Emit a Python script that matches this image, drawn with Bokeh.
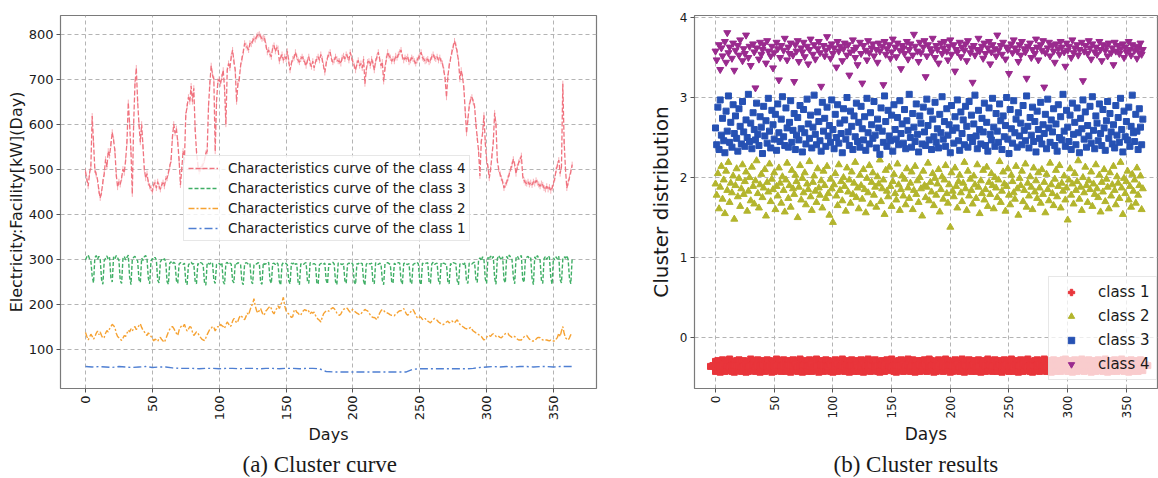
import math
import numpy as np
from bokeh.plotting import figure
from bokeh.layouts import row
from bokeh.models import Range1d, FixedTicker, Legend, LegendItem, Title
from bokeh.embed import file_html
from bokeh.resources import INLINE

nan = float("nan")

# ---------------- data ----------------
days = list(range(365))
x_ticks = [0, 50, 100, 150, 200, 250, 300, 350]
left_y_ticks = [100, 200, 300, 400, 500, 600, 700, 800]
right_y_ticks = [0, 1, 2, 3, 4]

curve_labels = ["Characteristics curve of the class 4", "Characteristics curve of the class 3",
                "Characteristics curve of the class 2", "Characteristics curve of the class 1"]
class_labels = ["class 1", "class 2", "class 3", "class 4"]

class4_curve = [
    495, 478, 462, 490, 505, 618, 560, 498, 488, 476,
    452, 436, 448, 472, 490, 522, 505, 540, 530, 555,
    582, 565, 540, 488, 460, 472, 466, 480, 500, 492,
    520, 560, 648, 600, 540, 445, 600, 690, 725, 650,
    600, 560, 600, 550, 500, 480, 490, 470, 462, 458,
    450, 465, 470, 458, 472, 462, 455, 465, 470, 462,
    478, 480, 492, 505, 520, 570, 600, 580, 590, 560,
    520, 465, 500, 540, 520, 620, 640, 660, 650, 685,
    650, 680, 590, 540, 510, 495, 500, 505, 512, 520,
    535, 540, 640, 690, 730, 710, 700, 540, 650, 695,
    700, 690, 705, 720, 680, 600, 720, 735, 725, 750,
    765, 740, 720, 650, 690, 700, 730, 745, 760, 780,
    775, 770, 765, 780, 778, 785, 790, 788, 795, 798,
    800, 795, 790, 792, 790, 775, 760, 765, 755, 750,
    770, 775, 762, 770, 768, 740, 748, 755, 742, 750,
    745, 762, 740, 720, 735, 745, 748, 760, 750, 742,
    738, 745, 750, 745, 738, 730, 742, 750, 735, 728,
    740, 725, 738, 745, 750, 742, 755, 745, 730, 715,
    735, 748, 755, 760, 745, 738, 742, 750, 745, 740,
    740, 735, 748, 752, 745, 755, 750, 742, 760, 748,
    738, 730, 720, 735, 742, 730, 735, 725, 745, 690,
    720, 738, 740, 730, 745, 735, 720, 740, 750, 760,
    745, 730, 738, 695, 725, 745, 760, 752, 748, 740,
    745, 740, 752, 748, 755, 760, 765, 750, 742, 748,
    745, 750, 738, 742, 748, 745, 740, 735, 742, 748,
    752, 760, 748, 745, 740, 742, 745, 738, 742, 750,
    755, 748, 745, 750, 742, 748, 740, 735, 720, 700,
    660, 705, 730, 745, 760, 772, 785, 775, 760, 740,
    700, 720, 705, 680, 630, 580, 610, 640, 655, 660,
    650, 640, 600, 570, 540, 485, 560, 580, 620, 560,
    520, 505, 480, 500, 530, 560, 625, 600, 520, 500,
    490, 480, 472, 458, 465, 470, 480, 490, 500, 510,
    522, 510, 490, 505, 515, 520, 530, 485, 475, 470,
    468, 472, 466, 470, 465, 472, 468, 475, 470, 466,
    462, 468, 465, 458, 455, 462, 455, 460, 452, 458,
    468, 480, 498, 510, 520, 490, 505, 690, 560, 500,
    458, 470, 482, 495, 510]

class3_curve = [
    298, 305, 309, 301, 296, 262, 247,
    303, 308, 300, 306, 299, 255, 244,
    296, 302, 307, 299, 304, 258, 249,
    305, 300, 308, 303, 297, 252, 246,
    301, 306, 298, 304, 309, 260, 243,
    299, 304, 306, 300, 296, 254, 248,
    302, 297, 305, 308, 301, 257, 245,
    296, 301, 299, 304, 298, 253, 247,
    294, 299, 296, 301, 295, 250, 244,
    291, 294, 289, 293, 290, 252, 246,
    289, 292, 290, 288, 291, 249, 243,
    287, 291, 293, 289, 290, 251, 245,
    290, 288, 292, 291, 287, 248, 242,
    292, 290, 289, 293, 291, 253, 246,
    288, 291, 290, 287, 292, 250, 244,
    290, 293, 288, 291, 289, 252, 247,
    291, 289, 292, 290, 288, 249, 243,
    289, 292, 291, 288, 290, 251, 245,
    287, 290, 289, 292, 291, 248, 244,
    292, 288, 290, 289, 293, 253, 246,
    290, 291, 288, 292, 289, 250, 242,
    288, 292, 291, 290, 287, 252, 245,
    291, 289, 293, 288, 290, 249, 243,
    289, 290, 288, 291, 292, 251, 246,
    292, 291, 289, 290, 288, 248, 244,
    288, 290, 292, 289, 291, 253, 245,
    290, 288, 291, 293, 289, 250, 243,
    291, 292, 289, 288, 290, 252, 246,
    289, 291, 290, 292, 288, 249, 244,
    290, 289, 293, 291, 290, 251, 242,
    288, 292, 290, 289, 291, 248, 245,
    292, 290, 288, 291, 289, 253, 243,
    289, 291, 292, 290, 288, 250, 246,
    291, 288, 290, 292, 291, 252, 244,
    290, 292, 289, 288, 290, 249, 245,
    288, 290, 291, 293, 289, 251, 243,
    291, 289, 290, 291, 292, 248, 246,
    289, 293, 288, 290, 291, 253, 244,
    292, 290, 291, 289, 288, 250, 245,
    290, 288, 292, 291, 290, 252, 243,
    289, 291, 290, 288, 292, 249, 246,
    291, 290, 289, 292, 293, 255, 248,
    298, 303, 296, 305, 300, 256, 246,
    304, 299, 307, 301, 306, 258, 244,
    300, 308, 303, 298, 305, 254, 247,
    306, 301, 309, 304, 299, 260, 245,
    302, 307, 300, 305, 308, 255, 248,
    299, 304, 306, 301, 303, 257, 243,
    305, 300, 308, 302, 298, 253, 246,
    301, 306, 299, 307, 304, 259, 244,
    303, 298, 305, 300, 306, 254, 247,
    300, 305, 302, 308, 299, 256, 245,
    302]

class2_curve = [
    137, 128, 120, 126, 133, 128, 122, 127, 135, 140,
    132, 138, 130, 124, 126, 135, 141, 138, 145, 150,
    155, 152, 148, 135, 128, 125, 122, 119, 124, 130,
    128, 135, 142, 138, 145, 140, 146, 150, 143, 148,
    152, 156, 148, 142, 138, 134, 130, 136, 132, 128,
    124, 118, 122, 120, 117, 123, 126, 121, 118, 115,
    122, 130, 138, 144, 148, 150, 146, 140, 135, 130,
    142, 148, 152, 150, 155, 146, 140, 144, 150, 148,
    138, 130, 134, 138, 136, 130, 126, 122, 120, 119,
    125, 132, 138, 144, 146, 150, 148, 140, 146, 150,
    148, 155, 152, 150, 146, 154, 160, 156, 150, 152,
    162, 168, 164, 158, 162, 170, 175, 172, 168, 165,
    172, 180, 176, 186, 195, 200, 212, 195, 185, 180,
    186, 190, 182, 175, 178, 185, 188, 192, 195, 190,
    182, 178, 186, 190, 196, 190, 198, 205, 215, 196,
    185, 180, 178, 175, 170, 172, 185, 188, 182, 180,
    176, 175, 182, 185, 188, 185, 188, 184, 178, 182,
    180, 182, 175, 170, 166, 164, 160, 170, 178, 182,
    185, 186, 184, 188, 190, 192, 190, 186, 180, 176,
    175, 178, 184, 188, 190, 192, 190, 185, 182, 186,
    188, 185, 182, 180, 178, 176, 178, 182, 185, 188,
    186, 185, 180, 176, 172, 170, 170, 168, 165, 172,
    180, 185, 188, 186, 182, 180, 180, 178, 176, 175,
    175, 174, 178, 180, 183, 185, 185, 188, 190, 184,
    178, 175, 178, 182, 185, 188, 182, 176, 170, 168,
    172, 170, 166, 165, 168, 164, 162, 160, 158, 162,
    165, 168, 166, 164, 160, 158, 156, 154, 155, 158,
    160, 162, 158, 160, 163, 160, 158, 162, 165, 160,
    155, 152, 150, 148, 146, 145, 144, 146, 148, 144,
    140, 138, 136, 135, 132, 130, 128, 124, 120, 122,
    126, 130, 130, 128, 132, 134, 132, 128, 126, 128,
    126, 125, 128, 132, 134, 135, 135, 130, 128, 126,
    128, 128, 125, 122, 120, 120, 120, 124, 127, 130,
    130, 126, 122, 120, 118, 118, 118, 122, 125, 126,
    125, 122, 120, 121, 120, 120, 119, 118, 120, 118,
    118, 118, 122, 126, 135, 128, 140, 150, 135, 125,
    122, 120, 125, 132, 130]

class1_days = list(range(0, 365, 5)) + [364]
class1_curve = [
    61, 60, 61, 60, 59, 61, 60, 59, 60, 61,
    59, 60, 60, 58, 57, 57, 57, 56, 57, 57,
    56, 57, 57, 56, 57, 57, 56, 57, 57, 56,
    57, 57, 56, 57, 57, 56, 50, 49, 49, 49,
    49, 49, 49, 49, 49, 49, 49, 49, 49, 55,
    56, 56, 56, 56, 56, 56, 56, 56, 57, 59,
    60, 61, 60, 61, 60, 61, 61, 60, 61, 61,
    60, 61, 61, 61]

# scatter: cluster distribution per day
class1_scatter_days = list(range(0, 365, 2))
class1_y = [
    -0.36, -0.35, -0.37, -0.34, -0.36, -0.35, -0.33, -0.36, -0.37, -0.35,
    -0.34, -0.36, -0.35, -0.37, -0.36, -0.33, -0.35, -0.36, -0.34, -0.37,
    -0.35, -0.36, -0.34, -0.35, -0.37, -0.36, -0.33, -0.35, -0.36, -0.34,
    -0.36, -0.35, -0.37, -0.34, -0.35, -0.36, -0.33, -0.37, -0.35, -0.36,
    -0.34, -0.36, -0.35, -0.33, -0.37, -0.35, -0.36, -0.34, -0.35, -0.36,
    -0.37, -0.34, -0.36, -0.35, -0.33, -0.36, -0.35, -0.37, -0.34, -0.36,
    -0.35, -0.36, -0.34, -0.37, -0.35, -0.33, -0.36, -0.35, -0.34, -0.36,
    -0.37, -0.35, -0.36, -0.34, -0.35, -0.33, -0.36, -0.37, -0.35, -0.34,
    -0.36, -0.35, -0.33, -0.36, -0.34, -0.37, -0.35, -0.36, -0.35, -0.34,
    -0.36, -0.33, -0.35, -0.37, -0.36, -0.34, -0.35, -0.36, -0.33, -0.35,
    -0.37, -0.36, -0.34, -0.35, -0.36, -0.33, -0.37, -0.35, -0.34, -0.36,
    -0.35, -0.36, -0.34, -0.37, -0.35, -0.36, -0.33, -0.35, -0.36, -0.34,
    -0.36, -0.35, -0.37, -0.34, -0.35, -0.36, -0.33, -0.36, -0.35, -0.37,
    -0.34, -0.36, -0.35, -0.33, -0.36, -0.37, -0.35, -0.34, -0.36, -0.35,
    -0.33, -0.36, -0.35, -0.37, -0.34, -0.36, -0.35, -0.36, -0.34, -0.33,
    -0.36, -0.35, -0.37, -0.34, -0.36, -0.35, -0.33, -0.36, -0.35, -0.34,
    -0.37, -0.35, -0.36, -0.34, -0.35, -0.36, -0.33, -0.37, -0.35, -0.36,
    -0.34, -0.36, -0.35, -0.33, -0.36, -0.35, -0.37, -0.34, -0.36, -0.35,
    -0.36, -0.34, -0.35]

class2_y = [
    1.92, 1.78, 2.05, 1.61, 1.88, 2.14, 1.73, 1.97, 1.55, 2.08,
    1.84, 2.19, 1.69, 1.93, 1.81, 2.02, 1.48, 1.90, 2.11, 1.76,
    1.99, 1.64, 1.86, 2.16, 1.79, 1.95, 2.07, 1.58, 1.83, 2.00,
    1.71, 2.13, 1.89, 1.67, 1.96, 2.21, 1.80, 1.62, 1.91, 2.04,
    1.75, 1.87, 2.10, 1.52, 1.94, 1.82, 2.17, 1.70, 1.98, 1.85,
    2.06, 1.60, 1.89, 1.77, 2.12, 1.93, 1.68, 2.01, 1.84, 1.57,
    1.97, 2.18, 1.74, 1.90, 1.63, 2.09, 1.86, 1.79, 2.03, 1.95,
    1.50, 1.88, 2.15, 1.72, 1.99, 1.81, 2.06, 1.66, 1.92, 1.85,
    2.20, 1.76, 1.59, 1.94, 2.02, 1.83, 1.69, 2.11, 1.87, 1.78,
    1.96, 1.62, 2.08, 1.90, 1.74, 2.14, 1.80, 1.53, 1.98, 1.86,
    1.44, 1.91, 2.05, 1.77, 1.65, 2.16, 1.84, 1.95, 1.71, 2.00,
    1.89, 1.58, 2.12, 1.82, 1.97, 1.68, 2.07, 1.79, 1.93, 2.19,
    1.75, 1.87, 1.61, 2.03, 1.90, 1.73, 2.10, 1.85, 1.56, 1.99,
    1.81, 2.15, 1.67, 1.94, 2.06, 1.78, 1.88, 1.63, 2.01, 1.92,
    2.22, 1.70, 1.86, 1.97, 1.54, 2.09, 1.83, 1.76, 2.13, 1.89,
    1.64, 1.95, 2.04, 1.80, 1.72, 2.17, 1.91, 1.59, 1.85, 2.02,
    1.77, 1.98, 1.66, 2.11, 1.87, 1.74, 1.93, 2.07, 1.60, 1.84,
    2.14, 1.79, 1.96, 1.69, 2.00, 1.86, 1.52, 2.08, 1.90, 1.75,
    1.88, 2.18, 1.71, 1.94, 1.82, 2.05, 1.65, 1.99, 1.78, 1.92,
    2.10, 1.57, 1.85, 2.01, 1.73, 1.97, 2.15, 1.80, 1.68, 1.91,
    1.38, 2.06, 1.83, 1.76, 2.12, 1.89, 1.62, 1.95, 2.03, 1.81,
    1.70, 1.93, 2.19, 1.86, 1.59, 2.08, 1.77, 1.98, 1.84, 1.67,
    2.02, 1.91, 1.74, 2.16, 1.88, 1.55, 1.96, 1.80, 2.09, 1.72,
    1.85, 2.13, 1.64, 1.94, 1.79, 2.05, 1.90, 1.61, 2.00, 1.87,
    1.75, 1.97, 2.20, 1.69, 1.83, 2.07, 1.92, 1.58, 1.89, 2.11,
    1.78, 1.66, 2.03, 1.95, 1.81, 1.73, 2.14, 1.86, 1.53, 1.99,
    1.90, 2.08, 1.70, 1.84, 2.17, 1.63, 1.93, 1.77, 2.01, 1.88,
    1.60, 2.12, 1.82, 1.96, 1.74, 2.06, 1.87, 1.68, 2.10, 1.79,
    1.94, 1.56, 2.04, 1.85, 1.71, 2.18, 1.91, 1.80, 1.65, 1.98,
    2.09, 1.76, 1.89, 2.15, 1.62, 1.93, 1.83, 2.02, 1.72, 1.87,
    1.47, 1.97, 2.11, 1.78, 1.92, 1.67, 2.05, 1.84, 1.95, 2.21,
    1.73, 1.88, 1.59, 2.00, 1.81, 2.13, 1.90, 1.69, 1.96, 1.85,
    2.07, 1.64, 1.92, 1.79, 2.16, 1.86, 1.75, 2.03, 1.57, 1.94,
    1.82, 2.10, 1.70, 1.98, 1.88, 1.61, 2.06, 1.77, 1.91, 2.14,
    1.84, 1.66, 2.01, 1.93, 1.74, 2.19, 1.87, 1.54, 1.99, 1.80,
    1.95, 2.08, 1.72, 1.89, 1.63, 2.04, 1.83, 1.97, 1.68, 2.12,
    1.78, 1.90, 2.02, 1.60, 1.86]

class3_y = [
    2.62, 2.41, 2.88, 2.35, 2.97, 2.53, 2.74, 2.46, 2.31, 2.83,
    2.58, 3.02, 2.44, 2.69, 2.38, 2.91, 2.55, 2.77, 2.49, 2.33,
    2.86, 2.64, 2.42, 2.95, 2.57, 2.39, 2.72, 2.50, 3.04, 2.45,
    2.68, 2.36, 2.81, 2.60, 2.47, 2.93, 2.54, 2.40, 2.76, 2.63,
    2.30, 2.89, 2.52, 2.71, 2.43, 2.99, 2.58, 2.37, 2.84, 2.66,
    2.48, 2.79, 2.34, 2.92, 2.56, 2.45, 2.73, 3.01, 2.51, 2.40,
    2.87, 2.62, 2.38, 2.69, 2.96, 2.44, 2.59, 2.80, 2.35, 2.53,
    2.75, 2.47, 2.90, 2.61, 2.32, 2.85, 2.56, 2.42, 2.98, 2.67,
    2.49, 2.78, 2.37, 2.63, 3.03, 2.54, 2.41, 2.82, 2.70, 2.46,
    2.33, 2.94, 2.58, 2.74, 2.39, 2.88, 2.52, 2.65, 2.44, 2.97,
    2.60, 2.36, 2.79, 2.50, 2.91, 2.43, 2.68, 2.55, 2.31, 2.86,
    2.72, 2.48, 3.00, 2.57, 2.40, 2.83, 2.64, 2.35, 2.77, 2.51,
    2.93, 2.45, 2.69, 2.38, 2.89, 2.61, 2.47, 2.76, 2.34, 2.99,
    2.56, 2.42, 2.81, 2.66, 2.49, 2.95, 2.53, 2.37, 2.73, 2.62,
    2.29, 2.87, 2.58, 2.44, 3.02, 2.70, 2.39, 2.84, 2.52, 2.46,
    2.78, 2.33, 2.91, 2.60, 2.48, 2.75, 2.41, 2.96, 2.55, 2.67,
    2.43, 2.85, 2.36, 2.71, 2.59, 3.04, 2.50, 2.38, 2.80, 2.63,
    2.45, 2.92, 2.54, 2.32, 2.77, 2.68, 2.42, 2.88, 2.57, 2.40,
    2.98, 2.65, 2.47, 2.83, 2.35, 2.73, 2.51, 2.94, 2.44, 2.61,
    2.37, 2.79, 2.56, 3.01, 2.48, 2.70, 2.39, 2.86, 2.53, 2.66,
    2.31, 2.90, 2.59, 2.43, 2.76, 2.62, 2.97, 2.46, 2.34, 2.82,
    2.55, 2.72, 2.41, 2.89, 2.64, 2.38, 2.95, 2.50, 2.78, 2.45,
    2.67, 3.03, 2.52, 2.36, 2.84, 2.60, 2.42, 2.74, 2.57, 2.93,
    2.40, 2.69, 2.33, 2.87, 2.54, 2.47, 2.99, 2.63, 2.39, 2.80,
    2.58, 2.44, 2.92, 2.71, 2.35, 2.77, 2.51, 2.65, 3.00, 2.48,
    2.30, 2.85, 2.61, 2.43, 2.96, 2.56, 2.73, 2.38, 2.81, 2.52,
    2.68, 2.41, 2.90, 2.59, 2.46, 3.02, 2.64, 2.37, 2.75, 2.53,
    2.88, 2.45, 2.70, 2.32, 2.83, 2.60, 2.49, 2.94, 2.42, 2.66,
    2.55, 2.79, 2.36, 2.98, 2.62, 2.44, 2.72, 2.57, 2.86, 2.40,
    2.67, 2.33, 2.91, 2.50, 2.76, 2.47, 3.04, 2.58, 2.39, 2.84,
    2.63, 2.45, 2.78, 2.35, 2.93, 2.54, 2.69, 2.41, 2.87, 2.56,
    2.31, 2.74, 2.61, 2.97, 2.48, 2.82, 2.38, 2.65, 2.52, 2.89,
    2.43, 3.01, 2.59, 2.36, 2.77, 2.68, 2.46, 2.92, 2.55, 2.40,
    2.85, 2.62, 2.34, 2.71, 2.95, 2.49, 2.80, 2.57, 2.42, 2.66,
    2.37, 2.90, 2.53, 2.75, 2.44, 2.99, 2.60, 2.32, 2.83, 2.51,
    2.70, 2.47, 2.88, 2.39, 2.64, 3.03, 2.56, 2.45, 2.79, 2.58,
    2.35, 2.86, 2.63, 2.41, 2.73]

class4_y = [
    3.58, 3.47, nan, 3.66, 3.35, 3.62, 3.52, nan, 3.70, 3.44,
    3.81, 3.56, 3.63, nan, 3.49, 3.68, 3.34, 3.59, nan, 3.65,
    3.53, 3.72, nan, 3.46, 3.61, 3.55, 3.78, nan, 3.50, 3.64,
    3.40, nan, 3.67, 3.57, 3.12, 3.62, nan, 3.48, 3.69, 3.54,
    3.60, 3.66, nan, 3.43, 3.71, 3.58, nan, 3.52, 3.64, 3.37,
    3.56, nan, 3.69, 3.61, 3.22, 3.50, 3.65, nan, 3.59, 3.74,
    nan, 3.47, 3.63, 3.55, 3.68, nan, 3.53, 3.20, 3.66, 3.58,
    3.71, 3.45, nan, 3.62, 3.57, 3.69, 3.51, nan, 3.64, 3.42,
    3.60, 3.73, nan, 3.54, 3.66, 3.48, nan, 3.61, 3.70, 3.56,
    3.14, nan, 3.65, 3.52, 3.59, 3.76, nan, 3.63, 3.49, 3.67,
    3.55, 3.62, nan, 3.38, 3.70, 3.58, 3.64, nan, 3.46, 3.61,
    3.68, nan, 3.53, 3.66, 3.28, 3.57, nan, 3.72, 3.60, 3.50,
    3.63, 3.41, nan, 3.69, 3.55, 3.18, 3.65, nan, 3.59, 3.47,
    3.71, 3.56, nan, 3.62, 3.67, 3.52, nan, 3.60, 3.44, 3.68,
    3.58, nan, 3.64, 3.16, 3.70, 3.54, 3.61, nan, 3.66, 3.49,
    3.57, 3.73, nan, 3.63, 3.51, 3.68, nan, 3.59, 3.36, 3.65,
    3.62, 3.55, nan, 3.70, 3.48, 3.60, 3.67, nan, 3.53, 3.79,
    3.64, nan, 3.58, 3.45, 3.69, 3.56, nan, 3.63, 3.71, 3.26,
    3.52, 3.66, nan, 3.61, 3.57, 3.74, nan, 3.50, 3.65, 3.60,
    3.43, nan, 3.68, 3.55, 3.62, 3.70, nan, 3.58, 3.47, 3.64,
    3.72, 3.54, nan, 3.66, 3.33, 3.60, 3.57, nan, 3.69, 3.51,
    3.63, nan, 3.59, 3.67, 3.46, 3.71, nan, 3.56, 3.62, 3.19,
    3.65, 3.53, nan, 3.60, 3.74, 3.58, nan, 3.64, 3.49, 3.68,
    3.55, nan, 3.62, 3.70, 3.42, 3.57, 3.66, nan, 3.61, 3.52,
    3.78, 3.59, nan, 3.65, 3.54, 3.69, nan, 3.48, 3.63, 3.60,
    3.30, nan, 3.67, 3.56, 3.72, 3.62, nan, 3.58, 3.45, 3.66,
    3.53, 3.70, nan, 3.61, 3.57, 3.24, 3.64, nan, 3.68, 3.50,
    3.60, nan, 3.55, 3.73, 3.63, 3.47, nan, 3.66, 3.59, 3.71,
    3.13, 3.56, nan, 3.62, 3.69, 3.52, nan, 3.65, 3.58, 3.44,
    3.67, nan, 3.61, 3.54, 3.70, 3.63, nan, 3.57, 3.39, 3.68,
    3.59, 3.64, nan, 3.50, 3.72, 3.56, 3.62, nan, 3.66, 3.53,
    3.60, nan, 3.69, 3.21, 3.58, 3.65, nan, 3.55, 3.71, 3.62,
    3.48, 3.67, nan, 3.57, 3.63, 3.54, nan, 3.70, 3.60, 3.46,
    3.66, nan, 3.59, 3.64, 3.52, 3.68, nan, 3.56, 3.62, 3.41,
    3.69, 3.58, nan, 3.65, 3.55, 3.61, nan, 3.67, 3.50, 3.63,
    3.57, nan, 3.70, 3.60, 3.53, 3.66, nan, 3.59, 3.64, 3.49,
    3.62, 3.56, 3.68, 3.54, 3.60]

assert len(class4_curve) == 365 and len(class3_curve) == 365 and len(class2_curve) == 365
assert len(class1_curve) == len(class1_days)
assert len(class1_y) == len(class1_scatter_days)
assert len(class2_y) == 365 and len(class3_y) == 365 and len(class4_y) == 365

# ---------------- styling helpers ----------------
FONT = "DejaVu Sans"
TXT = "#1a1a1a"


def style_axes(p, tick_size, xlabel_size, ylabel_size, ylabel, y_ticks):
    p.outline_line_color = "#7a7a7a"
    p.outline_line_width = 1.2
    p.background_fill_color = "white"
    p.border_fill_color = "white"
    for ax in (p.xaxis[0], p.yaxis[0]):
        ax.axis_line_color = None
        ax.major_tick_line_color = "#555555"
        ax.major_tick_out = 4
        ax.major_tick_in = 0
        ax.minor_tick_line_color = None
        ax.major_label_text_font = FONT
        ax.major_label_text_font_size = tick_size
        ax.major_label_text_color = TXT
        ax.axis_label_text_font = FONT
        ax.axis_label_text_font_style = "normal"
        ax.axis_label_text_color = TXT
        ax.major_label_standoff = 3
    p.xaxis[0].ticker = FixedTicker(ticks=x_ticks)
    p.yaxis[0].ticker = FixedTicker(ticks=y_ticks)
    p.xaxis[0].major_label_orientation = math.pi / 2
    p.xaxis[0].axis_label = "Days"
    p.xaxis[0].axis_label_text_font_size = xlabel_size
    p.xaxis[0].axis_label_standoff = 2
    p.yaxis[0].axis_label = ylabel
    p.yaxis[0].axis_label_text_font_size = ylabel_size
    for g in (p.xgrid[0], p.ygrid[0]):
        g.grid_line_color = "#b4b4b4"
        g.grid_line_dash = "4 3"
        g.grid_line_width = 1
    p.xgrid[0].ticker = FixedTicker(ticks=x_ticks)
    p.ygrid[0].ticker = FixedTicker(ticks=y_ticks)


def caption(p, text, offset):
    p.add_layout(Title(text=text, align="left", text_font="Liberation Serif",
                       text_font_size="23px", text_font_style="normal", text_color=TXT,
                       standoff=4, offset=offset), "below")


# ---------------- left panel: cluster curves ----------------
RED, GREEN, ORANGE, BLUE = "#f0737f", "#3fae65", "#f6a232", "#4f7fd2"

p1 = figure(width=630, height=478, output_backend="svg", toolbar_location=None, title=None,
            x_range=Range1d(-18.7, 382.2), y_range=Range1d(12.2, 841.7),
            min_border_left=60, min_border_right=34, min_border_top=12, min_border_bottom=88)
style_axes(p1, "13px", "16px", "16px", "Electricity:Facility[kW](Day)", left_y_ticks)
p1.yaxis[0].axis_label_standoff = 0

r4 = p1.line(days, class4_curve, line_color=RED, line_width=1.3, line_dash="5 2")
r4m = p1.scatter(days, class4_curve, marker="dash", angle=math.pi / 2, size=6,
                 line_color=RED, line_alpha=0.55, line_width=1)
r3 = p1.line(days, class3_curve, line_color=GREEN, line_width=1.4, line_dash="4 2")
r2 = p1.line(days, class2_curve, line_color=ORANGE, line_width=1.4, line_dash="6 2 2 2")
r1 = p1.line(class1_days, class1_curve, line_color=BLUE, line_width=1.4, line_dash="8 3 2 3")

leg1 = Legend(items=[LegendItem(label=curve_labels[0], renderers=[r4, r4m]),
                     LegendItem(label=curve_labels[1], renderers=[r3]),
                     LegendItem(label=curve_labels[2], renderers=[r2]),
                     LegendItem(label=curve_labels[3], renderers=[r1])],
              location=(123, 147), margin=0, padding=4, spacing=4,
              glyph_width=30, glyph_height=16, label_height=16, label_standoff=10,
              label_text_font=FONT, label_text_font_size="13.5px", label_text_color=TXT,
              border_line_color="#cfcfcf", border_line_width=1,
              background_fill_color="white", background_fill_alpha=0.8)
p1.add_layout(leg1)
caption(p1, "(a) Cluster curve", 182)

# ---------------- right panel: cluster results ----------------
C1, C2, C3, C4 = "#e8353b", "#b3b52d", "#2651b3", "#9a2a8e"

p2 = figure(width=528, height=478, output_backend="svg", toolbar_location=None, title=None,
            x_range=Range1d(-17.9, 376.5), y_range=Range1d(-0.636, 4.025),
            min_border_left=64, min_border_right=1, min_border_top=15, min_border_bottom=89)
style_axes(p2, "12px", "17px", "20px", "Cluster distribution", right_y_ticks)
p2.yaxis[0].axis_label_standoff = 4
p2.xaxis[0].axis_label_standoff = 3

s1 = p2.scatter(class1_scatter_days, class1_y, marker="plus", size=16, color=C1)
s2 = p2.scatter(days, np.array(class2_y, dtype=float), marker="triangle", size=7, color=C2)
s3 = p2.scatter(days, np.array(class3_y, dtype=float), marker="square", size=6, color=C3)
s4 = p2.scatter(days, np.array(class4_y, dtype=float), marker="inverted_triangle", size=7, color=C4)

leg2 = Legend(items=[LegendItem(label=class_labels[0], renderers=[s1]),
                     LegendItem(label=class_labels[1], renderers=[s2]),
                     LegendItem(label=class_labels[2], renderers=[s3]),
                     LegendItem(label=class_labels[3], renderers=[s4])],
              location=(354, 8), margin=0, padding=6, spacing=6,
              glyph_width=32, glyph_height=16, label_height=16, label_standoff=11,
              label_text_font=FONT, label_text_font_size="15px", label_text_color=TXT,
              border_line_color="#cfcfcf", border_line_width=1,
              background_fill_color="white", background_fill_alpha=0.75)
p2.add_layout(leg2)
caption(p2, "(b) Cluster results", 139)

layout = row(p1, p2, spacing=0)
open("out.html", "w").write(file_html(layout, INLINE))
